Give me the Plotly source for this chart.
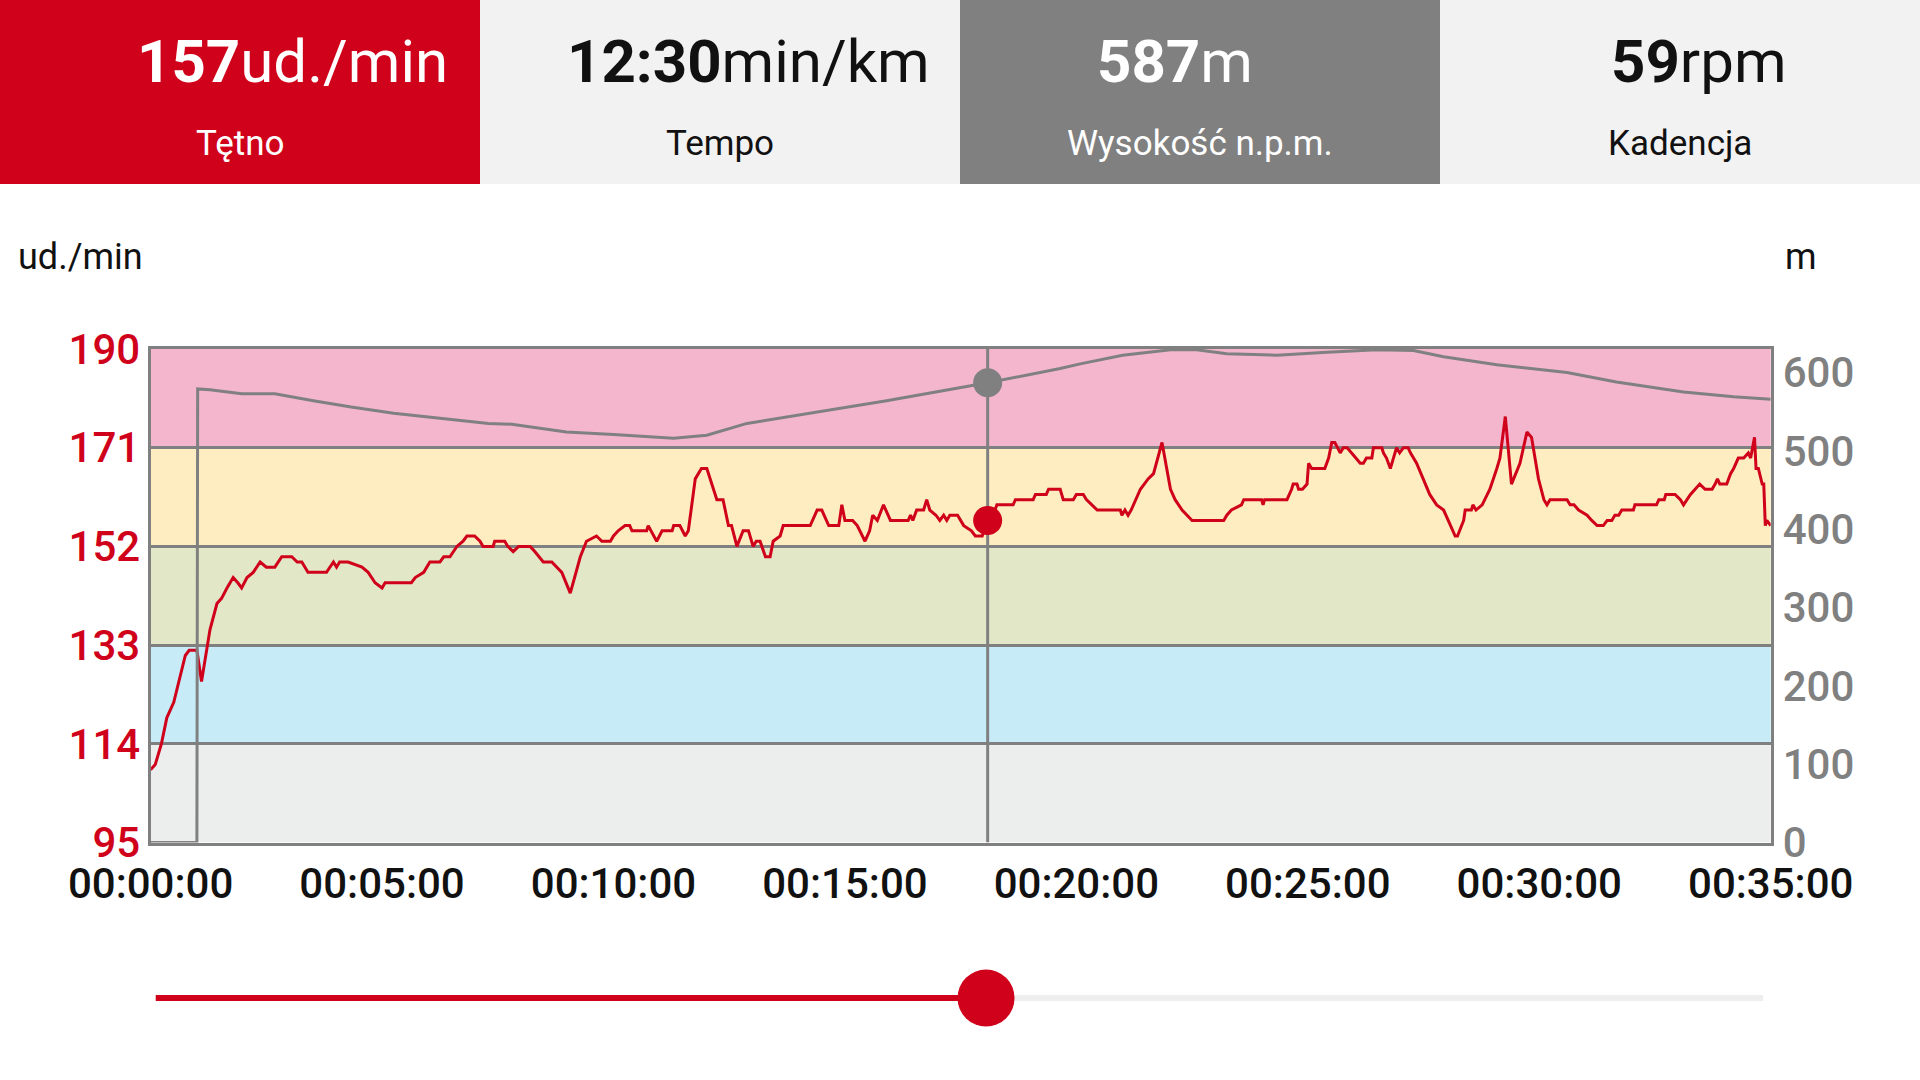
import plotly.graph_objects as go

# heart rate (seconds from start, bpm)
hr_time = [0, 6, 14, 21, 30, 38, 45, 50, 56, 60, 66, 77, 86, 92, 99, 107, 113, 118, 125, 133,
           142, 150, 161, 170, 183, 190, 196, 204, 228, 237, 241, 245, 256, 274, 282, 291, 300, 304, 338, 343,
           354, 362, 375, 380, 388, 397, 405, 410, 420, 427, 431, 444, 446, 459, 463, 470, 477, 492, 498, 509,
           520, 533, 544, 557, 565, 578, 585, 596, 600, 606, 615, 621, 624, 643, 645, 656, 663, 676, 678, 686,
           693, 697, 706, 714, 721, 730, 734, 742, 749, 753, 760, 768, 775, 781, 785, 790, 797, 803, 807, 816,
           820, 855, 864, 870, 879, 892, 896, 900, 910, 916, 926, 932, 936, 942, 950, 959, 982, 985, 988, 993,
           1002, 1006, 1010, 1018, 1023, 1028, 1032, 1036, 1046, 1054, 1064, 1069, 1078, 1085, 1092, 1097, 1118, 1121, 1144, 1147,
           1161, 1164, 1179, 1183, 1196, 1200, 1209, 1213, 1220, 1227, 1257, 1259, 1263, 1267, 1271, 1283, 1293, 1300, 1311, 1317,
           1322, 1328, 1337, 1350, 1391, 1395, 1401, 1414, 1417, 1440, 1442, 1444, 1473, 1479, 1481, 1486, 1488, 1493, 1499, 1501,
           1505, 1522, 1527, 1531, 1535, 1542, 1546, 1551, 1557, 1562, 1568, 1572, 1576, 1583, 1585, 1596, 1598, 1602, 1607, 1611,
           1615, 1619, 1624, 1630, 1633, 1641, 1658, 1667, 1676, 1682, 1691, 1694, 1702, 1704, 1712, 1714, 1718, 1726, 1736, 1745,
           1749, 1756, 1760, 1764, 1775, 1784, 1790, 1799, 1806, 1810, 1814, 1836, 1840, 1845, 1851, 1862, 1868, 1875, 1883, 1888,
           1894, 1898, 1903, 1907, 1922, 1924, 1952, 1955, 1962, 1964, 1970, 1976, 1983, 1987, 1996, 2002, 2008, 2015, 2024, 2028,
           2031, 2034, 2043, 2048, 2052, 2058, 2065, 2071, 2074, 2079, 2081, 2084, 2089, 2091, 2093, 2095, 2100]
hr_bpm = [109, 110, 114, 119, 122, 127, 131, 132, 132, 132, 126, 136, 141, 142, 144, 146, 145, 144, 146, 147,
          149, 148, 148, 150, 150, 149, 149, 147, 147, 149, 148, 149, 149, 148, 147, 145, 144, 145, 145, 146,
          147, 149, 149, 150, 150, 152, 153, 154, 154, 153, 152, 152, 153, 153, 152, 151, 152, 152, 151, 149,
          149, 147, 143, 150, 153, 154, 153, 153, 154, 155, 156, 156, 155, 155, 156, 153, 155, 155, 156, 156,
          154, 155, 165, 167, 167, 163, 161, 161, 156, 156, 152, 155, 155, 152, 153, 153, 150, 150, 153, 154,
          156, 156, 159, 159, 156, 156, 160, 157, 157, 156, 153, 155, 158, 157, 160, 157, 157, 158, 157, 159,
          159, 161, 159, 158, 157, 158, 157, 158, 158, 156, 155, 154, 154, 157, 158, 160, 160, 161, 161, 162,
          162, 163, 163, 161, 161, 162, 162, 161, 160, 159, 159, 158, 159, 158, 159, 163, 165, 166, 172, 167,
          163, 161, 159, 157, 157, 158, 159, 160, 161, 161, 160, 161, 161, 163, 164, 164, 163, 163, 164, 168,
          167, 167, 169, 172, 172, 170, 171, 171, 170, 169, 168, 168, 169, 169, 171, 171, 170, 169, 167, 169,
          171, 170, 171, 171, 170, 168, 162, 160, 159, 157, 154, 154, 157, 159, 159, 160, 159, 160, 163, 167,
          169, 177, 171, 164, 168, 174, 173, 165, 161, 160, 161, 161, 160, 160, 159, 158, 157, 156, 156, 157,
          157, 158, 158, 159, 159, 160, 160, 161, 161, 162, 162, 162, 161, 160, 162, 163, 164, 163, 163, 164,
          165, 164, 164, 166, 167, 169, 169, 170, 169, 173, 167, 167, 164, 164, 156, 157, 156]

# altitude (seconds from start, metres)
elev_time = [0, 60, 61, 77, 118, 161, 211, 260, 315, 366, 438, 468, 539, 600, 678, 721, 773, 954, 1085, 1179,
             1205, 1260, 1322, 1356, 1395, 1460, 1525, 1590, 1637, 1676, 1745, 1836, 1900, 1987, 2052, 2100]
elev_m = [0, 0, 579, 578, 573, 573, 564, 556, 548, 543, 535, 534, 524, 521, 516, 520, 535, 564, 587, 605,
          611, 622, 629, 629, 624, 622, 626, 629, 628, 620, 610, 600, 588, 575, 569, 566]

zone_edges = [95, 114, 133, 152, 171, 190]
hr_ticks = [95, 114, 133, 152, 171, 190]
elev_ticks = [0, 100, 200, 300, 400, 500, 600]
x_tick_secs = [0, 300, 600, 900, 1200, 1500, 1800, 2100]
x_tick_labels = ["00:00:00", "00:05:00", "00:10:00", "00:15:00", "00:20:00", "00:25:00", "00:30:00", "00:35:00"]
total_time = 2100

cursor_time = 1085
cursor_hr = 157
cursor_elev = 587

header_values = ["157", "12:30", "587", "59"]
header_units = ["ud./min", "min/km", "m", "rpm"]
header_labels = ["Tętno", "Tempo", "Wysokość n.p.m.", "Kadencja"]

W, H = 1920, 1080
RED = "#D0021B"
GRAY = "#808080"
FONT = "Roboto"
zone_colors = ["#ECEDED", "#C7ECF8", "#E2E8C7", "#FDEDC1", "#F3B6CD"]
header_bg = [RED, "#F2F2F2", GRAY, "#F2F2F2"]
header_fg = ["white", "#111111", "white", "#111111"]
header_val_x = [292, 748, 1175, 1699]


def px(x):
    return x / W


def py(y):
    return 1 - y / H


fig = go.Figure()

fig.add_trace(go.Scatter(x=hr_time, y=hr_bpm, mode="lines", line=dict(color=RED, width=3),
                         xaxis="x", yaxis="y", hoverinfo="skip"))
fig.add_trace(go.Scatter(x=[cursor_time], y=[cursor_hr], mode="markers",
                         marker=dict(color=RED, size=29), xaxis="x", yaxis="y", cliponaxis=False))
fig.add_trace(go.Scatter(x=elev_time, y=elev_m, mode="lines", line=dict(color=GRAY, width=3),
                         xaxis="x", yaxis="y2", hoverinfo="skip"))
fig.add_trace(go.Scatter(x=[cursor_time], y=[cursor_elev], mode="markers",
                         marker=dict(color=GRAY, size=29), xaxis="x", yaxis="y2", cliponaxis=False))

# slider under the chart
fig.add_trace(go.Scatter(x=[0, total_time], y=[0, 0], mode="lines", line=dict(color="#EEEEEE", width=6),
                         xaxis="x2", yaxis="y3", cliponaxis=False))
fig.add_trace(go.Scatter(x=[0, cursor_time], y=[0, 0], mode="lines", line=dict(color=RED, width=6),
                         xaxis="x2", yaxis="y3", cliponaxis=False))
fig.add_trace(go.Scatter(x=[cursor_time], y=[0], mode="markers", marker=dict(color=RED, size=57),
                         xaxis="x2", yaxis="y3", cliponaxis=False))

# heart rate zones
for i in range(len(zone_edges) - 1):
    fig.add_shape(type="rect", xref="x domain", yref="y", x0=0, x1=1,
                  y0=zone_edges[i], y1=zone_edges[i + 1],
                  fillcolor=zone_colors[i], line_width=0, layer="below")

# cursor line
fig.add_shape(type="line", xref="x", yref="y", x0=cursor_time, x1=cursor_time, y0=95, y1=190,
              line=dict(color=GRAY, width=3), layer="between")

# header panels
for i in range(4):
    fig.add_shape(type="rect", xref="paper", yref="paper", x0=px(i * 480), x1=px((i + 1) * 480),
                  y0=py(184), y1=1, fillcolor=header_bg[i], line_width=0, layer="below")
    fig.add_annotation(x=px(header_val_x[i]), y=py(62), xref="paper", yref="paper", showarrow=False,
                       text="<b>" + header_values[i] + "</b>" + header_units[i],
                       font=dict(family=FONT, size=60, color=header_fg[i]), xanchor="center", yanchor="middle")
    fig.add_annotation(x=px(i * 480 + 240), y=py(143.5), xref="paper", yref="paper", showarrow=False,
                       text=header_labels[i],
                       font=dict(family=FONT, size=35, color=header_fg[i]), xanchor="center", yanchor="middle")

fig.add_annotation(x=px(16), y=py(257), xref="paper", yref="paper", showarrow=False, text="ud./min",
                   font=dict(family=FONT, size=36, color="#111111"), xanchor="left", yanchor="middle")
fig.add_annotation(x=px(1783), y=py(257), xref="paper", yref="paper", showarrow=False, text="m",
                   font=dict(family=FONT, size=36, color="#111111"), xanchor="left", yanchor="middle")

tick_font = dict(family=FONT, size=42, weight=500)

fig.update_layout(
    width=W, height=H,
    margin=dict(l=0, r=0, t=0, b=0, autoexpand=False),
    paper_bgcolor="white", plot_bgcolor="white",
    showlegend=False,
    xaxis=dict(domain=[px(150.6), px(1770.7)], range=[0, total_time], anchor="y", automargin=False,
               tickvals=x_tick_secs, ticktext=x_tick_labels, tickfont=dict(tick_font, color="#111111"),
               showgrid=False, zeroline=False, showline=True, mirror=True, linecolor=GRAY, linewidth=3,
               ticks="", ticklabelstandoff=2),
    yaxis=dict(domain=[py(842.5), py(349)], range=[95, 190], anchor="x", automargin=False,
               tickvals=hr_ticks, tickfont=dict(tick_font, color=RED),
               showgrid=True, gridcolor=GRAY, gridwidth=3, zeroline=False,
               showline=True, mirror=True, linecolor=GRAY, linewidth=3, ticks="", ticklabelstandoff=-1),
    yaxis2=dict(overlaying="y", side="right", anchor="x", range=[0, 630], automargin=False,
                tickvals=elev_ticks, tickfont=dict(tick_font, color=GRAY),
                showgrid=False, zeroline=False, showline=False, ticks="", ticklabelstandoff=11),
    xaxis2=dict(domain=[px(155.5), px(1763)], range=[0, total_time], anchor="y3", visible=False),
    yaxis3=dict(domain=[py(1030), py(966)], range=[-1, 1], anchor="x2", visible=False),
)

fig.write_html("out.html", config={"displayModeBar": False},
               post_script="document.body.style.margin='0';document.body.style.overflow='hidden';")
